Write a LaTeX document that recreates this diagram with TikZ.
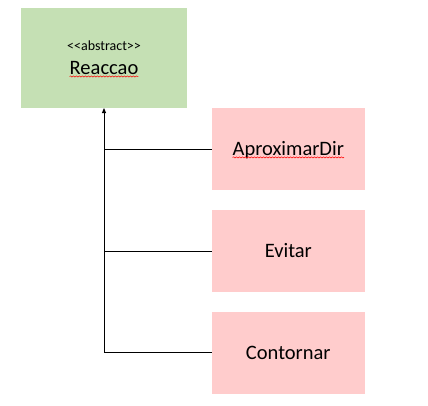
\documentclass[tikz,border=0pt]{standalone}
\usepackage{fontspec}
\setmainfont{Carlito}
\usetikzlibrary{arrows.meta,decorations.pathmorphing}
\definecolor{boxgreen}{RGB}{197,224,180}
\definecolor{boxpink}{RGB}{255,204,204}
\begin{document}
\begin{tikzpicture}[x=1pt,y=-1pt,
  absbox/.style={fill=boxgreen,draw=none,inner sep=0pt,minimum width=166pt,minimum height=100pt},
  subbox/.style={fill=boxpink,draw=none,inner sep=0pt,minimum width=153pt,minimum height=82pt,
    font=\fontsize{20.5}{24}\selectfont},
  bigtext/.style={inner sep=0pt,font=\fontsize{20.5}{24}\selectfont},
  smalltext/.style={inner sep=0pt,font=\fontsize{14}{16}\selectfont},
  link/.style={draw=black,line width=0.9pt},
  squiggle/.style={draw=red,line width=0.5pt,decorate,decoration={snake,amplitude=0.6pt,segment length=3pt}}]
\useasboundingbox (0,0) rectangle (428,405);
\node[absbox] (reac) at (104,57.8) {};
\node[smalltext] (stereo) at (104,45.5) {<\kern0pt<abstract>\kern0pt>};
\node[bigtext] (name) at (104,68) {Reaccao};
\node[subbox] (apx) at (288.3,149) {};
\node[bigtext] (apxt) at (288.3,150) {AproximarDir};
\node[subbox] (evi) at (288.3,251) {Evitar};
\node[subbox] (con) at (288.3,352.5) {Contornar};
\draw[squiggle] ([yshift=-2pt]name.base west) -- ([yshift=-2pt]name.base east);
\draw[squiggle] ([yshift=-2pt]apxt.base west) -- ([yshift=-2pt]apxt.base east);
\draw[link,-{Triangle[length=5pt,width=4pt]}] (con.west) -| (reac.south);
\draw[link] (apx.west) -- (apx.west -| reac.south);
\draw[link] (evi.west) -- (evi.west -| reac.south);
\end{tikzpicture}
\end{document}
